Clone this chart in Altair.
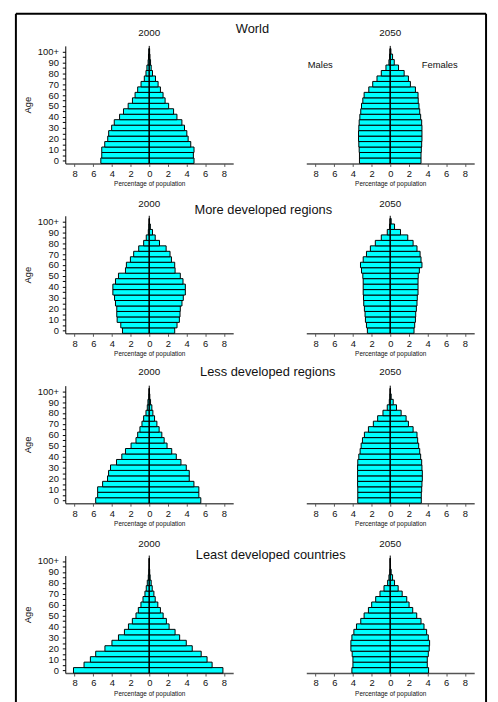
import altair as alt
import pandas as pd

FONT = "Liberation Sans"
TEXT = "#111111"

# ---------------- data ----------------
AGE_START = list(range(0, 105, 5))          # 0-4 ... 100+
REGIONS = ["World", "More developed regions",
           "Less developed regions", "Least developed countries"]
YEARS = ["2000", "2050"]
X_TICKS = [-8, -6, -4, -2, 0, 2, 4, 6, 8]
X_TITLE = "Percentage of population"
Y_TITLE = "Age"
SEX_LABELS = ["Males", "Females"]
SEX_LABEL_X = [-7.5, 5.3]
SEX_LABEL_AGE = [90, 90]

world_2000_m = [5.19, 5.09, 5.09, 4.77, 4.45, 4.35, 4.03, 3.75, 3.18, 2.76, 2.26,
                1.80, 1.52, 1.24, 0.88, 0.53, 0.35, 0.25, 0.12, 0.08, 0.04]
world_2000_f = [4.80, 4.73, 4.80, 4.45, 4.17, 4.03, 3.78, 3.50, 2.97, 2.61, 2.08,
                1.70, 1.48, 1.20, 0.95, 0.67, 0.35, 0.21, 0.14, 0.08, 0.04]
world_2050_m = [3.30, 3.30, 3.33, 3.37, 3.40, 3.40, 3.37, 3.33, 3.26, 3.16, 3.08,
                2.94, 2.80, 2.30, 1.88, 1.42, 0.96, 0.46, 0.14, 0.07, 0.02]
world_2050_f = [3.30, 3.30, 3.33, 3.37, 3.40, 3.40, 3.40, 3.37, 3.26, 3.16, 3.08,
                3.00, 2.98, 2.70, 2.16, 1.95, 1.49, 0.89, 0.43, 0.25, 0.07]

more_2000_m = [2.87, 3.05, 3.44, 3.48, 3.48, 3.62, 3.72, 3.90, 3.90, 3.62, 3.30,
               2.55, 2.45, 2.02, 1.67, 1.13, 0.60, 0.32, 0.10, 0.04, 0.01]
more_2000_f = [2.73, 2.98, 3.23, 3.30, 3.33, 3.51, 3.65, 3.87, 3.87, 3.62, 3.33,
               2.77, 2.73, 2.38, 2.23, 1.81, 1.10, 0.64, 0.35, 0.12, 0.03]
more_2050_m = [2.45, 2.55, 2.66, 2.70, 2.77, 2.84, 2.87, 2.90, 2.90, 2.90, 2.94,
               3.08, 3.19, 2.90, 2.55, 2.13, 1.60, 0.96, 0.32, 0.07, 0.02]
more_2050_f = [2.55, 2.62, 2.70, 2.73, 2.80, 2.87, 2.90, 2.98, 2.98, 2.98, 3.00,
               3.12, 3.40, 3.30, 3.20, 2.87, 2.45, 1.88, 1.10, 0.46, 0.10]

less_2000_m = [5.74, 5.53, 5.53, 5.00, 4.47, 4.36, 4.15, 3.51, 2.94, 2.55, 1.95,
               1.42, 1.24, 1.00, 0.78, 0.60, 0.35, 0.21, 0.14, 0.05, 0.02]
less_2000_f = [5.53, 5.32, 5.32, 4.79, 4.29, 4.29, 3.97, 3.40, 2.90, 2.41, 1.91,
               1.60, 1.35, 1.06, 0.82, 0.57, 0.39, 0.28, 0.14, 0.06, 0.02]
less_2050_m = [3.48, 3.48, 3.48, 3.50, 3.50, 3.50, 3.50, 3.48, 3.37, 3.23, 3.12,
               2.98, 2.77, 2.34, 1.81, 1.35, 0.78, 0.32, 0.10, 0.04, 0.01]
less_2050_f = [3.33, 3.33, 3.37, 3.40, 3.44, 3.44, 3.40, 3.37, 3.26, 3.16, 3.05,
               2.94, 2.87, 2.45, 1.95, 1.70, 1.17, 0.67, 0.32, 0.10, 0.03]

least_2000_m = [8.12, 6.99, 6.31, 5.74, 4.75, 4.00, 3.30, 2.66, 2.23, 1.81, 1.42,
                1.17, 0.89, 0.67, 0.46, 0.32, 0.21, 0.10, 0.05, 0.02, 0.01]
least_2000_f = [7.90, 6.74, 6.20, 5.57, 4.61, 3.97, 3.26, 2.77, 2.13, 1.84, 1.49,
                1.20, 0.92, 0.64, 0.50, 0.32, 0.21, 0.10, 0.05, 0.02, 0.01]
least_2050_m = [4.11, 4.00, 4.00, 4.08, 4.22, 4.22, 4.11, 3.90, 3.62, 3.16, 2.80,
                2.34, 1.99, 1.56, 1.10, 0.67, 0.28, 0.14, 0.05, 0.02, 0.01]
least_2050_f = [4.11, 3.97, 3.97, 4.08, 4.18, 4.22, 4.08, 3.90, 3.62, 3.30, 2.84,
                2.41, 2.02, 1.77, 1.28, 0.85, 0.46, 0.25, 0.10, 0.03, 0.01]

PANELS = [
    [(world_2000_m, world_2000_f), (world_2050_m, world_2050_f)],
    [(more_2000_m, more_2000_f), (more_2050_m, more_2050_f)],
    [(less_2000_m, less_2000_f), (less_2050_m, less_2050_f)],
    [(least_2000_m, least_2000_f), (least_2050_m, least_2050_f)],
]

# ---------------- layout ----------------
W, H = 170, 119
Y_MAX = 107.5
YEAR_Y = [117, 115.5, 117, 115]
ROW_TITLE_DX = [104.5, 115.5, 120, 123]
ROW_TITLE_DY = [8, 18.3, 12, 22.8]

ONE = alt.Data(values=[{"k": 0}])


def panel(r, c):
    males, females = PANELS[r][c]
    recs = []
    for a, m, f in zip(AGE_START, males, females):
        recs.append({"age": a, "age_end": a + 5, "x0": -m, "x1": 0.0})
        recs.append({"age": a, "age_end": a + 5, "x0": 0.0, "x1": f})
    df = pd.DataFrame(recs)

    xs = alt.Scale(domain=[-9, 9], nice=False, zero=False)
    ys = alt.Scale(domain=[0, Y_MAX], nice=False, zero=False)

    x_axis = alt.Axis(values=X_TICKS, labelExpr="format(abs(datum.value), 'd')",
                      title=X_TITLE, grid=False, labelFont=FONT, labelFontSize=9.5,
                      labelColor=TEXT, labelPadding=2, tickSize=3, tickColor="#555555",
                      domainColor="#555555", domainWidth=1.5, titleFont=FONT,
                      titleFontSize=6.5, titleFontWeight="normal", titleColor=TEXT,
                      titlePadding=3)
    if c == 0:
        y_axis = alt.Axis(values=[a + 2.5 for a in AGE_START],
                          labelExpr="datum.value > 100 ? '100+' : ((datum.value - 2.5) % 10 == 0 ? format(datum.value - 2.5, 'd') : '')",
                          labelOverlap=False, grid=False, labelFont=FONT, labelFontSize=9.5,
                          labelColor=TEXT, labelPadding=4, tickSize=3, tickColor="black",
                          domainColor="black", title=Y_TITLE, titleFont=FONT,
                          titleFontSize=9.5, titleFontWeight="normal", titleColor=TEXT,
                          titlePadding=5)
    else:
        y_axis = None

    bars = alt.Chart(df).mark_bar(fill="#00FFFF", stroke="black", strokeWidth=1).encode(
        x=alt.X("x0:Q", scale=xs, axis=x_axis),
        x2="x1:Q",
        y=alt.Y("age:Q", scale=ys, axis=y_axis),
        y2="age_end:Q",
    )
    centre = alt.Chart(ONE).mark_rule(color="black", strokeWidth=1).encode(
        x=alt.X(datum=0, scale=xs, axis=x_axis),
        y=alt.Y(datum=0, scale=ys, axis=y_axis),
        y2=alt.Y2(datum=Y_MAX))
    year = alt.Chart(ONE).mark_text(text=YEARS[c], font=FONT, fontSize=10, color=TEXT,
                                    baseline="alphabetic").encode(
        x=alt.X(datum=0, scale=xs, axis=x_axis),
        y=alt.Y(datum=YEAR_Y[r], scale=ys, axis=y_axis))
    layers = [bars, centre, year]

    if r == 0 and c == 1:
        sex_df = pd.DataFrame({"x": SEX_LABEL_X, "y": SEX_LABEL_AGE, "t": SEX_LABELS})
        sex = alt.Chart(sex_df).mark_text(font=FONT, fontSize=9.5, color=TEXT).encode(
            x=alt.X("x:Q", scale=xs, axis=x_axis),
            y=alt.Y("y:Q", scale=ys, axis=y_axis),
            text="t:N")
        # outer frame of the figure
        f_top = alt.Chart(ONE).mark_rule(color="black", strokeWidth=2).encode(
            x=alt.value(-294), x2=alt.value(182),
            y=alt.value(-32.5), y2=alt.value(-32.5))
        f_left = alt.Chart(ONE).mark_rule(color="black", strokeWidth=2).encode(
            x=alt.value(-294), x2=alt.value(-294),
            y=alt.value(-32.5), y2=alt.value(665))
        f_right = alt.Chart(ONE).mark_rule(color="black", strokeWidth=2).encode(
            x=alt.value(182), x2=alt.value(182),
            y=alt.value(-32.5), y2=alt.value(665))
        layers += [sex, f_top, f_left, f_right]

    props = dict(width=W, height=H)
    if c == 0:
        props["title"] = alt.TitleParams(REGIONS[r], font=FONT, fontSize=13,
                                         fontWeight="normal", color=TEXT, frame="group",
                                         anchor="middle", dx=ROW_TITLE_DX[r],
                                         dy=ROW_TITLE_DY[r], offset=0)
    return alt.layer(*layers).properties(**props)


panels = [panel(r, c) for r in range(4) for c in range(2)]

chart = alt.concat(*panels, columns=2, spacing={"row": 53, "column": 74},
                   bounds="flush").properties(
    padding={"left": 6, "top": 0, "right": 2, "bottom": 0},
    background="white",
).configure_view(stroke="transparent")

chart.save("out.html", embed_options={"renderer": "svg", "actions": False})
